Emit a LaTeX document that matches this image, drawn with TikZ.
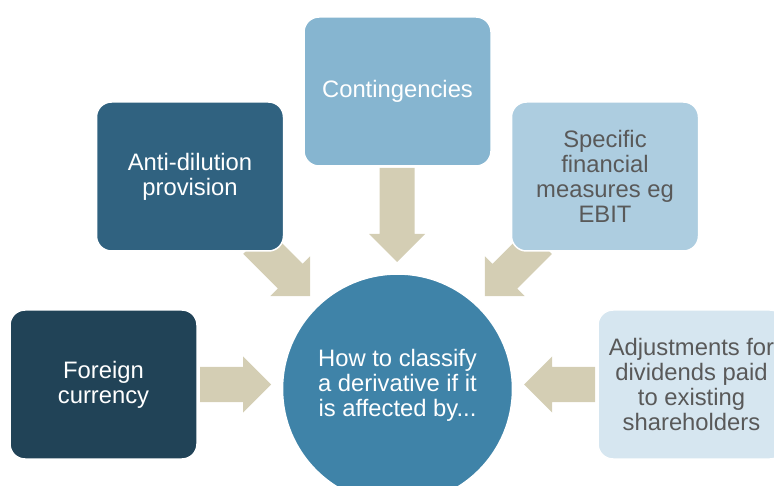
\documentclass[tikz,border=0pt]{standalone}
\usepackage{fontspec}
\setmainfont{Liberation Sans}
\definecolor{cForeign}{RGB}{33,67,87}
\definecolor{cAnti}{RGB}{48,98,128}
\definecolor{cCont}{RGB}{134,181,208}
\definecolor{cSpec}{RGB}{173,205,224}
\definecolor{cAdj}{RGB}{214,230,240}
\definecolor{cHub}{RGB}{63,131,168}
\definecolor{cArrow}{RGB}{212,206,180}
\definecolor{cGrayText}{RGB}{89,89,89}
\begin{document}
\begin{tikzpicture}[x=1pt,y=-1pt,
  boxnode/.style={rectangle, rounded corners=15pt, minimum width=187pt, minimum height=149pt,
    draw=white, line width=1.5pt, align=center, inner sep=0pt,
    font=\fontsize{23.8}{25}\selectfont},
  hubnode/.style={circle, minimum size=230pt, inner sep=0pt, fill=cHub, draw=white, line width=1.5pt},
  hubtext/.style={align=center, text=white, font=\fontsize{23.8}{25}\selectfont},
  blockarrow/.style={fill=cArrow}]
\useasboundingbox (0,0) rectangle (774,486);
\clip (0,0) rectangle (774,486);
% block arrows (drawn first, boxes overlap them)
\fill[blockarrow, shift={(200,384.5)}, rotate=0]
  (0,-17.5) -- (43,-17.5) -- (43,-28) -- (71,0) -- (43,28) -- (43,17.5) -- (0,17.5) -- cycle;
\fill[blockarrow, shift={(595,384.5)}, rotate=180]
  (0,-17.5) -- (43,-17.5) -- (43,-28) -- (71,0) -- (43,28) -- (43,17.5) -- (0,17.5) -- cycle;
\fill[blockarrow, shift={(397,168)}, rotate=-90]
  (0,-17.5) -- (66,-17.5) -- (66,-28) -- (94,0) -- (66,28) -- (66,17.5) -- (0,17.5) -- cycle;
\fill[blockarrow, shift={(255.6,241.6)}, rotate=-45]
  (0,-17.5) -- (49,-17.5) -- (49,-28) -- (77,0) -- (49,28) -- (49,17.5) -- (0,17.5) -- cycle;
\fill[blockarrow, shift={(539.4,241.6)}, rotate=-135]
  (0,-17.5) -- (49,-17.5) -- (49,-28) -- (77,0) -- (49,28) -- (49,17.5) -- (0,17.5) -- cycle;
% boxes
\node[boxnode, fill=cForeign, text=white] (foreign) at (103.5,384.5) {Foreign\\currency};
\node[boxnode, fill=cAnti, text=white] (anti) at (190,176.5) {Anti-dilution\\provision};
\node[boxnode, fill=cCont, text=white] (cont) at (397.5,91.5) {Contingencies};
\node[boxnode, fill=cSpec, text=cGrayText] (spec) at (605,176.5) {Specific\\financial\\measures eg\\EBIT};
\node[boxnode, fill=cAdj, text=cGrayText] (adj) at (691.5,384.5) {Adjustments for\\dividends paid\\to existing\\shareholders};
% hub
\node[hubnode] (hub) at (397.5,389) {};
\node[hubtext] (hubt) at (397.5,385) {How to classify\\a derivative if it\\is affected by...};
\end{tikzpicture}
\end{document}
